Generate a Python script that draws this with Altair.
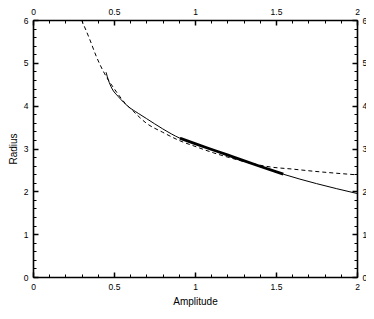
import altair as alt
import pandas as pd

# ---- data ----
solid_x = [0.451, 0.465, 0.486, 0.527, 0.588, 0.65, 0.70, 0.80, 0.907, 1.00, 1.09, 1.20, 1.278, 1.40, 1.545, 1.75, 2.00]
solid_y = [4.78, 4.60, 4.41, 4.21, 3.98, 3.82, 3.70, 3.46, 3.24, 3.115, 2.995, 2.85, 2.745, 2.585, 2.40, 2.18, 1.95]

dash_x = [0.30, 0.35, 0.393, 0.44, 0.506, 0.568, 0.619, 0.70, 0.80, 0.907, 1.00, 1.113, 1.22, 1.34, 1.463, 1.60, 1.73, 2.00]
dash_y = [6.00, 5.55, 5.13, 4.76, 4.37, 4.06, 3.87, 3.59, 3.38, 3.18, 3.05, 2.90, 2.78, 2.66, 2.57, 2.52, 2.47, 2.385]

thick_x = [0.907, 1.00, 1.09, 1.20, 1.278, 1.40, 1.545]
thick_y = [3.24, 3.115, 2.995, 2.85, 2.745, 2.585, 2.40]

x_major = [0, 0.5, 1, 1.5, 2]
y_major = [0, 1, 2, 3, 4, 5, 6]
x_minor = [0, 0.1, 0.2, 0.3, 0.4, 0.5, 0.6, 0.7, 0.8, 0.9, 1.0,
           1.1, 1.2, 1.3, 1.4, 1.5, 1.6, 1.7, 1.8, 1.9, 2.0]
y_minor = [0, 0.2, 0.4, 0.6, 0.8, 1, 1.2, 1.4, 1.6, 1.8, 2, 2.2, 2.4, 2.6, 2.8, 3,
           3.2, 3.4, 3.6, 3.8, 4, 4.2, 4.4, 4.6, 4.8, 5, 5.2, 5.4, 5.6, 5.8, 6]

x_title = "Amplitude"
y_title = "Radius"

# ---- layout ----
W, H = 324, 257
FONT = "Liberation Sans"

solid = pd.DataFrame({"x": solid_x, "y": solid_y})
dashed = pd.DataFrame({"x": dash_x, "y": dash_y})
thick = pd.DataFrame({"x": thick_x, "y": thick_y})

xs = alt.Scale(domain=[0, 2], nice=False, zero=False)
ys = alt.Scale(domain=[0, 6], nice=False, zero=False)

label_common = dict(
    labelFont=FONT, labelFontSize=8.5, labelColor="black", labelFlush=False,
    labelOverlap=False, format="~g", ticks=False, tickSize=0, grid=False,
    domain=True, domainColor="black", domainWidth=1.6,
)


def tick_axis(orient, values, size, width, offset):
    return alt.Axis(
        orient=orient, values=values, labels=False, domain=False, grid=False,
        ticks=True, tickSize=size, tickWidth=width, tickColor="black",
        offset=offset, title=None,
    )


# Layer A: solid curve, bottom/left labelled axes
layer_a = alt.Chart(solid).mark_line(color="black", strokeWidth=1, interpolate="monotone").encode(
    x=alt.X("x:Q", scale=xs, axis=alt.Axis(
        orient="bottom", values=x_major, title=x_title, titleFont=FONT, titleFontSize=10,
        titleFontWeight="normal", titleColor="black", titlePadding=6, labelPadding=5,
        **label_common)),
    y=alt.Y("y:Q", scale=ys, axis=alt.Axis(
        orient="left", values=y_major, title=y_title, titleFont=FONT, titleFontSize=10,
        titleFontWeight="normal", titleColor="black", titlePadding=5, labelPadding=5,
        **label_common)),
)

# Layer B: dashed curve, top/right labelled axes
layer_b = alt.Chart(dashed).mark_line(color="black", strokeWidth=1, strokeDash=[4, 3], interpolate="monotone").encode(
    x=alt.X("x:Q", scale=xs, axis=alt.Axis(orient="top", values=x_major, title=None,
                                           labelPadding=3.8, **label_common)),
    y=alt.Y("y:Q", scale=ys, axis=alt.Axis(orient="right", values=y_major, title=None,
                                           labelPadding=5, **label_common)),
)

# Layer C: thick segment; inward major ticks on bottom & left
layer_c = alt.Chart(thick).mark_line(color="black", strokeWidth=2.8, interpolate="monotone").encode(
    x=alt.X("x:Q", scale=xs, axis=tick_axis("top", x_major, 5, 1.5, -H)),
    y=alt.Y("y:Q", scale=ys, axis=tick_axis("right", y_major, 5, 1.5, -W)),
)

# Layer D: inward minor ticks on bottom & left
layer_d = alt.Chart(thick).mark_line(opacity=0).encode(
    x=alt.X("x:Q", scale=xs, axis=tick_axis("top", x_minor, 3, 1, -H)),
    y=alt.Y("y:Q", scale=ys, axis=tick_axis("right", y_minor, 3, 1, -W)),
)

# Layer E: inward major ticks on top & right
layer_e = alt.Chart(thick).mark_line(opacity=0).encode(
    x=alt.X("x:Q", scale=xs, axis=tick_axis("bottom", x_major, 5, 1.5, -H)),
    y=alt.Y("y:Q", scale=ys, axis=tick_axis("left", y_major, 5, 1.5, -W)),
)

# Layer F: inward minor ticks on top & right
layer_f = alt.Chart(thick).mark_line(opacity=0).encode(
    x=alt.X("x:Q", scale=xs, axis=tick_axis("bottom", x_minor, 3, 1, -H)),
    y=alt.Y("y:Q", scale=ys, axis=tick_axis("left", y_minor, 3, 1, -W)),
)

chart = alt.layer(layer_a, layer_b, layer_c, layer_d, layer_e, layer_f).resolve_scale(
    x="shared", y="shared"
).resolve_axis(
    x="independent", y="independent"
).properties(
    width=W, height=H,
    autosize=alt.AutoSizeParams(type="none"),
    padding={"left": 25, "top": 12, "right": 9, "bottom": 32},
).configure_view(stroke=None)

chart.save("out.html", embed_options={"renderer": "svg", "actions": False})
